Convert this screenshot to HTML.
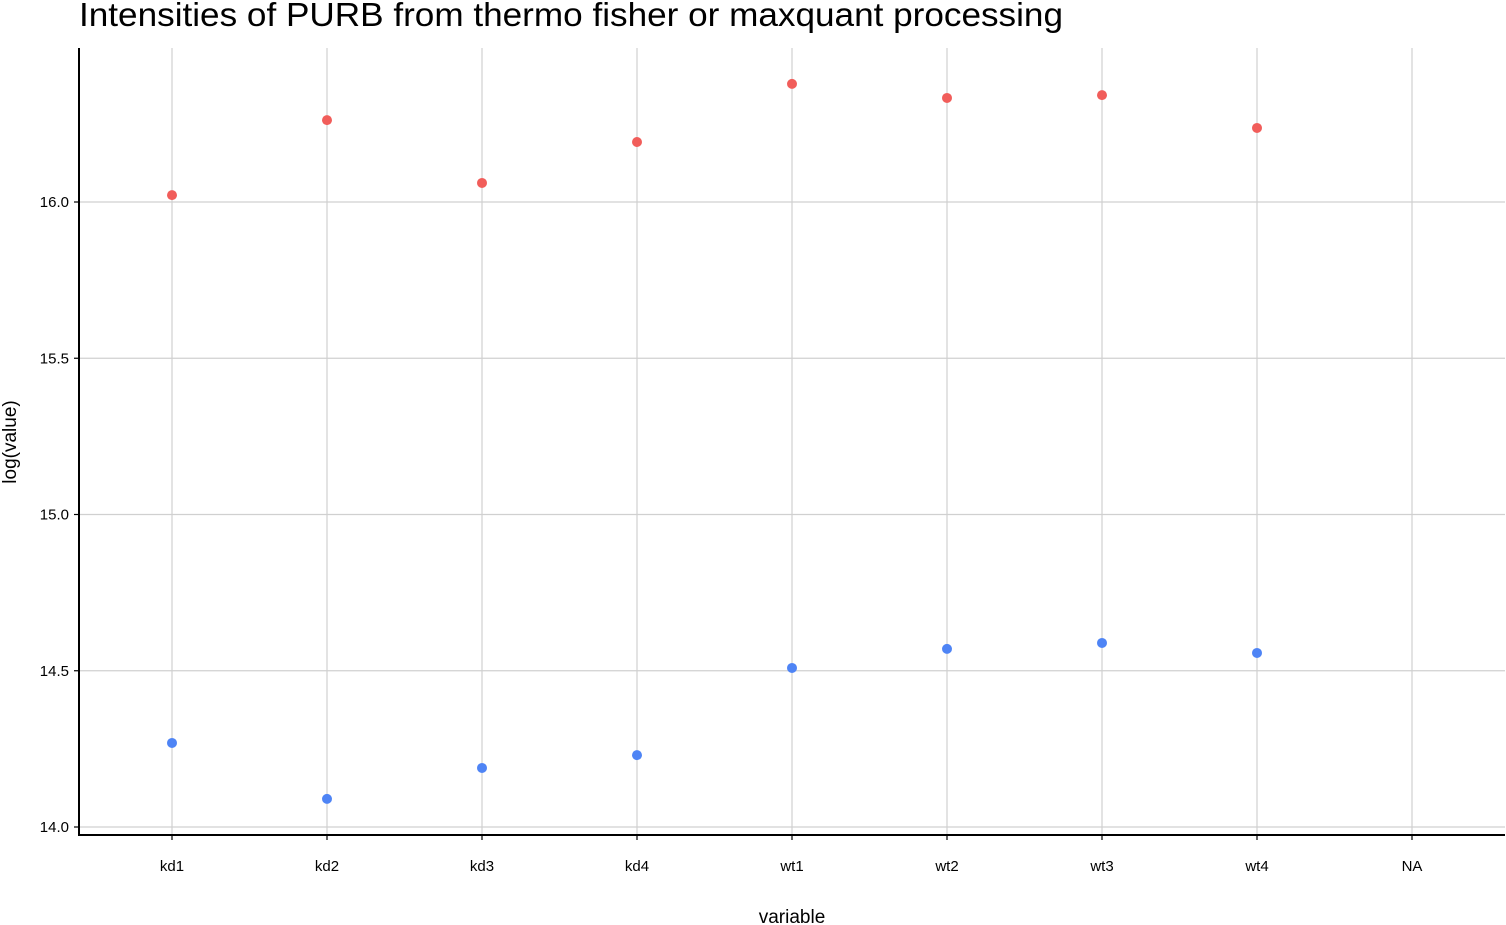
<!DOCTYPE html>
<html><head><meta charset="utf-8">
<style>
html,body{margin:0;padding:0;background:#fff;}
svg{display:block;font-family:"Liberation Sans",Arial,sans-serif;}
</style></head>
<body>
<svg id="chart" width="1506" height="925" viewBox="0 0 1506 925" xmlns="http://www.w3.org/2000/svg">
<text x="79" y="26" font-size="33" textLength="984" lengthAdjust="spacingAndGlyphs" fill="#000">Intensities of PURB from thermo fisher or maxquant processing</text>
<g id="grid"></g>
<g id="points"></g>
<g id="axes"></g>
<text x="792" y="923" font-size="19" text-anchor="middle">variable</text>
<text transform="translate(16,442) rotate(-90)" font-size="19" text-anchor="middle">log(value)</text>
</svg>
<script>
const categories = ["kd1","kd2","kd3","kd4","wt1","wt2","wt3","wt4","NA"];
const thermoValues = [16.022,16.262,16.061,16.192,16.378,16.333,16.342,16.237];
const maxquantValues = [14.269,14.090,14.189,14.230,14.509,14.570,14.589,14.557];
const yTicks = [14.0,14.5,15.0,15.5,16.0];
const yTickLabels = ["14.0","14.5","15.0","15.5","16.0"];

const NS="http://www.w3.org/2000/svg";
const pLeft=79,pRight=1505,pTop=48,pBottom=835;
function xScale(i){return 172+i*155;}
function yScale(v){return 827-(v-14)*312.5;}
function mk(tag,attrs,parent,text){const e=document.createElementNS(NS,tag);for(const k in attrs)e.setAttribute(k,attrs[k]);if(text!==undefined)e.textContent=text;parent.appendChild(e);return e;}
const grid=document.getElementById('grid'),pts=document.getElementById('points'),axes=document.getElementById('axes');

yTicks.forEach((t,i)=>{
  const y=yScale(t);
  const l=mk('line',{x1:pLeft,x2:pRight,y1:y,y2:y,stroke:'#d0d0d0','stroke-width':1.2},grid);
  
  
  const tk=mk('line',{x1:pLeft-5,x2:pLeft,y1:y,y2:y,stroke:'#000','stroke-width':1.2},axes);
  
  
  const tx=mk('text',{x:pLeft-10,y:y+5,'font-size':15,'text-anchor':'end'},axes,yTickLabels[i]);
  
  
});
categories.forEach((c,i)=>{
  const x=xScale(i);
  const l=mk('line',{x1:x,x2:x,y1:pTop,y2:pBottom,stroke:'#d0d0d0','stroke-width':1.2},grid);
  
  
  const tk=mk('line',{x1:x,x2:x,y1:pBottom,y2:pBottom+5,stroke:'#000','stroke-width':1.2},axes);
  
  
  const tx=mk('text',{x:x,y:871,'font-size':15,'text-anchor':'middle'},axes,c);
  
  
});
const la=mk('line',{x1:pLeft,x2:pLeft,y1:pTop,y2:pBottom+1,stroke:'#000','stroke-width':2},axes);


const ba=mk('line',{x1:pLeft-1,x2:pRight,y1:pBottom,y2:pBottom,stroke:'#000','stroke-width':2},axes);



thermoValues.forEach((v,i)=>{
  const c=mk('circle',{cx:xScale(i),cy:yScale(v),r:5,fill:'#f15d5a'},pts);
  
  
});
maxquantValues.forEach((v,i)=>{
  const c=mk('circle',{cx:xScale(i),cy:yScale(v),r:5,fill:'#4e84f5'},pts);
  
  
});
</script>
</body></html>
